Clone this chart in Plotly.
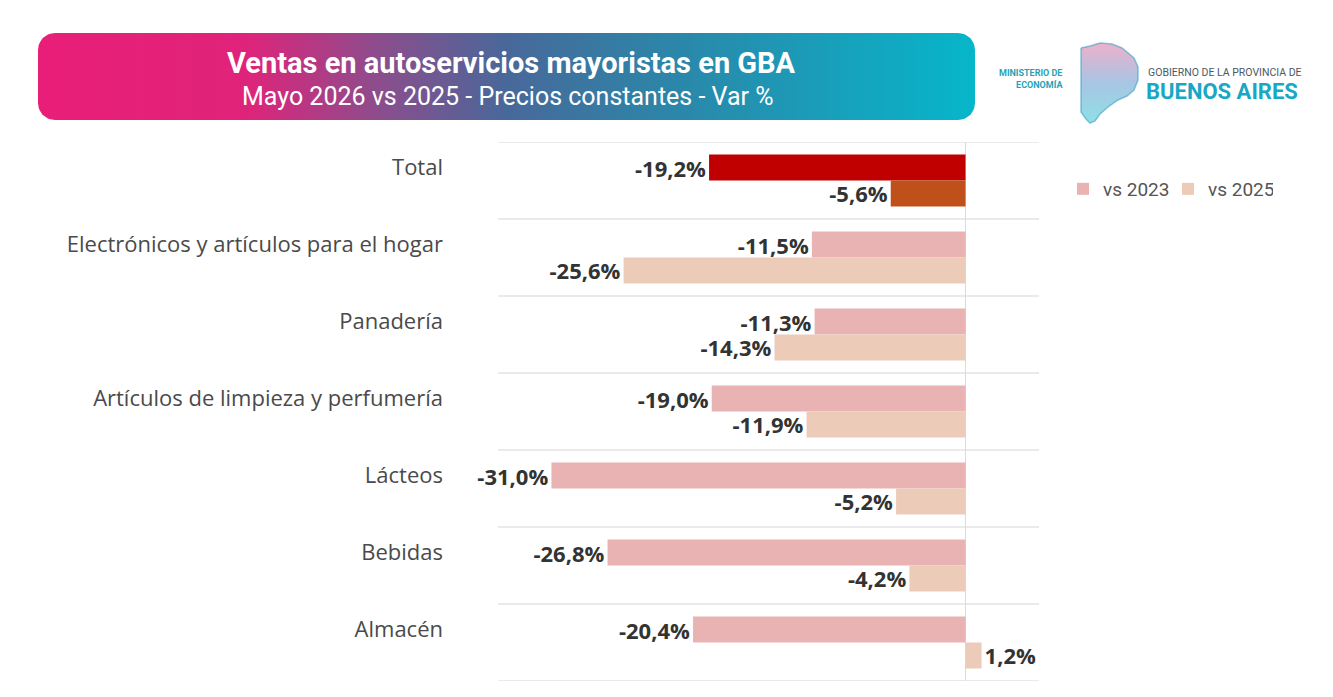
import plotly.graph_objects as go
import numpy as np

# ---------------- data ----------------
categories = ["Total", "Electrónicos y artículos para el hogar", "Panadería",
              "Artículos de limpieza y perfumería", "Lácteos", "Bebidas", "Almacén"]
vs2023 = [-19.2, -11.5, -11.3, -19.0, -31.0, -26.8, -20.4]
vs2025 = [-5.6, -25.6, -14.3, -11.9, -5.2, -4.2, 1.2]
series_names = ["vs 2023", "vs 2025"]
title_text = "Ventas en autoservicios mayoristas en GBA"
subtitle_text = "Mayo 2026 vs 2025 - Precios constantes - Var %"

# ---------------- styles ----------------
W, H = 1333, 697
C23, C25 = "#EAB3B3", "#ECCBB8"
TOT23, TOT25 = "#C00000", "#C0501A"
LABEL_FONT = "Open Sans"
GAP = 0.325            # bargap
LABEL_SHIFT = (1 - GAP) / 4   # category label aligned with first bar of each group


def py(y):
    return 1 - y / H


def fmt(v):
    return f"{v:.1f}%".replace(".", ",")


n = len(categories)
pos = list(range(n))
colors23 = [TOT23] + [C23] * (n - 1)
colors25 = [TOT25] + [C25] * (n - 1)

fig = go.Figure()

txtfont = dict(family=LABEL_FONT, size=22, color="#333333", weight="bold")
fig.add_trace(go.Bar(y=pos, x=vs2023, orientation="h", name=series_names[0],
                     marker=dict(color=colors23, line_width=0),
                     text=[fmt(v) for v in vs2023], textposition="outside",
                     constraintext="none", textangle=0,
                     textfont=txtfont, cliponaxis=False, showlegend=False,
                     hoverinfo="skip"))
fig.add_trace(go.Bar(y=pos, x=vs2025, orientation="h", name=series_names[1],
                     marker=dict(color=colors25, line_width=0),
                     text=[fmt(v) for v in vs2025], textposition="outside",
                     constraintext="none", textangle=0,
                     textfont=txtfont, cliponaxis=False, showlegend=False,
                     hoverinfo="skip"))

# legend entries (on the decoration axes, off-range)
for nm, col in zip(series_names, [C23, C25]):
    fig.add_trace(go.Scatter(x=[-500], y=[-500], mode="markers", name=nm,
                             marker=dict(symbol="square", size=12, color=col),
                             xaxis="x2", yaxis="y2", showlegend=True,
                             hoverinfo="skip"))


# banner with horizontal gradient (rounded rectangle)
def rounded_rect(x0, y0, x1, y1, r, k=12):
    pts = []
    for cx, cy, a0 in [(x1 - r, y0 + r, -90), (x1 - r, y1 - r, 0),
                       (x0 + r, y1 - r, 90), (x0 + r, y0 + r, 180)]:
        for a in np.linspace(a0, a0 + 90, k):
            t = np.radians(a)
            pts.append((cx + r * np.cos(t), cy + r * np.sin(t)))
    pts.append(pts[0])
    return [p[0] for p in pts], [p[1] for p in pts]


bx, by = rounded_rect(38, 33, 975, 120, 17)
fig.add_trace(go.Scatter(x=bx, y=by, mode="lines", fill="toself",
                         line=dict(width=0, color="rgba(0,0,0,0)"),
                         fillgradient=dict(type="horizontal",
                                           colorscale=[[0, "#E91E78"], [0.22, "#E0237A"],
                                                       [0.36, "#8E4C8C"], [0.5, "#48689A"],
                                                       [0.65, "#2F82A6"], [1, "#06B6CA"]]),
                         xaxis="x2", yaxis="y2", showlegend=False, hoverinfo="skip"))

# simplified province map icon
mx = [1081, 1090, 1100, 1112, 1122, 1128, 1134, 1138, 1138, 1134, 1127, 1118, 1108, 1100, 1095, 1090, 1086, 1081, 1081]
my = [48, 46, 43, 44, 48, 53, 58, 67, 80, 90, 96, 100, 107, 114, 121, 123, 119, 112, 48]
fig.add_trace(go.Scatter(x=mx, y=my, mode="lines", fill="toself",
                         line=dict(width=1.5, color="rgba(60,160,200,0.6)"),
                         fillgradient=dict(type="vertical",
                                           colorscale=[[0, "rgba(50,200,210,0.55)"],
                                                       [0.5, "rgba(80,140,200,0.5)"],
                                                       [1, "rgba(225,110,160,0.55)"]]),
                         xaxis="x2", yaxis="y2", showlegend=False, hoverinfo="skip"))

annotations = [
    dict(text=f"<b>{title_text}</b>", x=511, y=63, xref="x2", yref="y2",
         showarrow=False, font=dict(family="Roboto", size=29, color="white")),
    dict(text=subtitle_text, x=508, y=96, xref="x2", yref="y2",
         showarrow=False, font=dict(family="Roboto", size=25, color="white")),
    dict(text="<b>MINISTERIO DE<br>ECONOMÍA</b>", x=1065, y=79, xref="x2", yref="y2",
         xanchor="right", align="right", showarrow=False,
         font=dict(family="Roboto", size=9, color="#1FA3B8")),
    dict(text="GOBIERNO DE LA PROVINCIA DE", x=1146, y=72, xref="x2", yref="y2",
         xanchor="left", showarrow=False,
         font=dict(family="Roboto", size=10.5, color="#4D5864")),
    dict(text="<b>BUENOS AIRES</b>", x=1144, y=91, xref="x2", yref="y2",
         xanchor="left", showarrow=False,
         font=dict(family="Roboto", size=22, color="#18A8C4")),
]

# separators between categories
shapes = [dict(type="line", xref="x domain", yref="y", x0=0, x1=1, y0=i - 0.5, y1=i - 0.5,
               line=dict(color="#E3E3E3", width=1.5), layer="below")
          for i in range(n + 1)]

fig.update_layout(
    width=W, height=H,
    margin=dict(l=0, r=0, t=0, b=0),
    paper_bgcolor="white", plot_bgcolor="rgba(0,0,0,0)",
    barmode="group", bargap=GAP, bargroupgap=0,
    font=dict(family=LABEL_FONT),
    xaxis=dict(domain=[498 / W, 1039 / W], range=[-35, 5.5], showticklabels=False,
               showgrid=False, zeroline=True, zerolinecolor="#DADADA", zerolinewidth=1,
               fixedrange=True),
    yaxis=dict(domain=[py(681), py(142)], range=[n - 0.5, -0.5],
               tickvals=[p - LABEL_SHIFT for p in pos],
               ticktext=categories, showgrid=False, zeroline=False,
               ticks="", ticklabelstandoff=54,
               tickfont=dict(family="Open Sans", size=22, color="#4A4A4A"),
               fixedrange=True),
    xaxis2=dict(domain=[0, 1], range=[0, W], visible=False, anchor="y2", fixedrange=True),
    yaxis2=dict(domain=[0, 1], range=[H, 0], visible=False, anchor="x2", fixedrange=True),
    legend=dict(orientation="h", x=1063 / W, y=py(189), xanchor="left", yanchor="middle",
                font=dict(family="Roboto", size=19, color="#555555"),
                entrywidth=60, bgcolor="rgba(0,0,0,0)"),
    shapes=shapes,
    annotations=annotations,
)

fig.write_html("out.html")
